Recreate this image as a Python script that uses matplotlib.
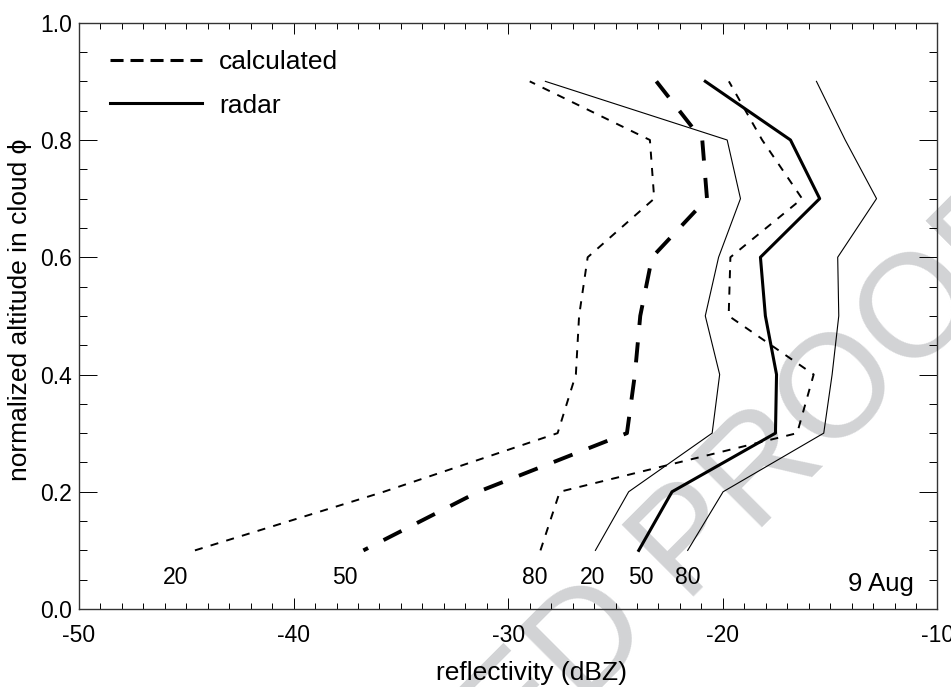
import matplotlib
matplotlib.use("Agg")
import matplotlib.pyplot as plt
from matplotlib.lines import Line2D
from matplotlib.ticker import MultipleLocator

plt.rcParams['font.family'] = ['Liberation Sans', 'DejaVu Sans']
plt.rcParams['lines.scale_dashes'] = False

# normalized altitude levels
alt = [0.1, 0.2, 0.3, 0.4, 0.5, 0.6, 0.7, 0.8, 0.9]

# calculated reflectivity (dBZ) for the 20/50/80 percentiles
calc20 = [-44.6, -35.8, -27.7, -26.85, -26.7, -26.3, -23.2, -23.4, -29.0]
calc50 = [-36.75, -31.4, -24.47, -24.1, -23.85, -23.3, -20.74, -20.96, -23.1]
calc80 = [-28.5, -27.6, -16.54, -15.77, -19.73, -19.65, -16.31, -18.17, -19.72]

# radar reflectivity (dBZ)
radar20 = [-25.94, -24.39, -20.5, -20.15, -20.82, -20.2, -19.18, -19.8, -28.27]
radar50 = [-23.92, -22.37, -17.55, -17.5, -18.02, -18.25, -15.49, -16.85, -20.82]
radar80 = [-21.64, -19.99, -15.3, -14.91, -14.6, -14.65, -12.84, -14.3, -15.64]

pct_labels = ['20', '50', '80', '20', '50', '80']

fig = plt.figure(figsize=(9.51, 6.87), dpi=100)
ax = fig.add_axes([0.0831, 0.1135, 0.9027, 0.8534])

ax.plot(calc20, alt, color='black', lw=1.4, dashes=(5.8, 6.0))
ax.plot(calc50[::-1], alt[::-1], color='black', lw=2.8, dashes=(14.5, 12.5))
ax.plot(calc80, alt, color='black', lw=1.4, dashes=(5.8, 6.0))
ax.plot(radar20, alt, color='black', lw=0.8)
ax.plot(radar50, alt, color='black', lw=2.2)
ax.plot(radar80, alt, color='black', lw=0.8)

# percentile labels under the start of each curve
starts = [calc20[0], calc50[0], calc80[0], radar20[0], radar50[0], radar80[0]]
shifts = [-0.89, -0.85, -0.27, -0.15, 0.08, 0.0]
for s, d, lbl in zip(starts, shifts, pct_labels):
    ax.text(s + d, 0.0435, lbl, transform=ax.get_xaxis_transform(),
            ha='center', va='baseline', fontsize=16.5)

ax.text(0.972, 0.031, '9 Aug', transform=ax.transAxes, ha='right',
        va='baseline', fontsize=18.5)

handles = [Line2D([], [], color='black', lw=2.2, dashes=(9.4, 5.0)),
           Line2D([], [], color='black', lw=2.2)]
ax.legend(handles, ['calculated', 'radar'], loc='upper left',
          bbox_to_anchor=(0.036, 0.953), frameon=False, fontsize=19,
          handlelength=3.5, handletextpad=0.64, labelspacing=0.73,
          borderpad=0, borderaxespad=0)

ax.set_xlim(-50, -10)
ax.set_ylim(0, 1)
ax.xaxis.set_major_locator(MultipleLocator(10))
ax.xaxis.set_minor_locator(MultipleLocator(1))
ax.yaxis.set_major_locator(MultipleLocator(0.2))
ax.yaxis.set_minor_locator(MultipleLocator(0.05))
ax.xaxis.set_major_formatter(plt.FuncFormatter(lambda v, p: '%d' % v))
ax.yaxis.set_major_formatter(plt.FuncFormatter(lambda v, p: '%.1f' % v))

ax.tick_params(direction='in', top=True, right=True, labelsize=16.5, width=0.7)
ax.tick_params(axis='x', which='major', length=8, pad=11)
ax.tick_params(axis='x', which='minor', length=4.3)
ax.tick_params(axis='y', which='major', length=12.7, pad=5)
ax.tick_params(axis='y', which='minor', length=6.1)
ax.tick_params(which='minor', direction='in', top=True, right=True, width=0.7)
for sp in ax.spines.values():
    sp.set_linewidth(1.0)
    sp.set_color('#333333')

ax.set_xlabel('reflectivity (dBZ)', fontsize=19)
ax.set_ylabel('normalized altitude in cloud \u03d5', fontsize=19)
ax.xaxis.set_label_coords(0.527, -0.088)
ax.yaxis.set_label_coords(-0.055, 0.51)

# watermark across the lower right
ax.text(0.540, -0.1295, 'ED PROOF', transform=fig.transFigure, rotation=45,
        rotation_mode='anchor', ha='left', va='baseline', fontsize=105,
        color='#d2d3d5', zorder=0.5, clip_on=False)

fig.savefig('out.png', dpi=100)
